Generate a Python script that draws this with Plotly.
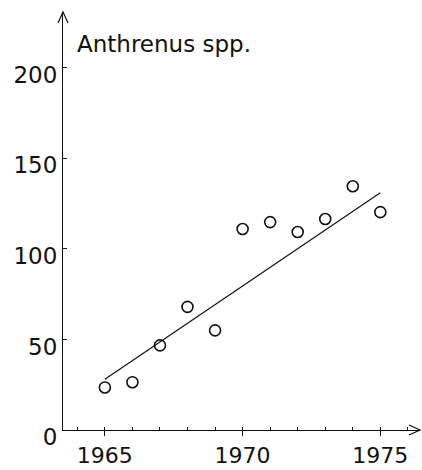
import plotly.graph_objects as go

years = [1965, 1966, 1967, 1968, 1969, 1970, 1971, 1972, 1973, 1974, 1975]
counts = [23.5, 26.4, 46.7, 68, 55, 111, 114.8, 109.3, 116.5, 134.6, 120.3]
trend_years = [1965, 1975]
trend_values = [28, 131]
y_ticks = [0, 50, 100, 150, 200]
x_ticks = [1965, 1970, 1975]
title_text = "Anthrenus spp."

W, H = 422, 470
ML, MR, MT, MB = 63, 2, 12, 38
PW, PH = W - ML - MR, H - MT - MB

FONT = "DejaVu Sans, Liberation Sans, Arial, sans-serif"
INK = "#111111"

fig = go.Figure()
fig.add_trace(go.Scatter(x=trend_years, y=trend_values, mode="lines",
                         line=dict(color=INK, width=1.2), showlegend=False, hoverinfo="skip"))
fig.add_trace(go.Scatter(x=years, y=counts, mode="markers",
                         marker=dict(symbol="circle-open", size=11, color=INK,
                                     line=dict(width=1.6, color=INK)),
                         showlegend=False))

# convert screen pixel positions to paper coords
def px(xp):
    return (xp - ML) / PW

def py(yp):
    return 1 - (yp - MT) / PH

shapes = [
    dict(type="path", xref="paper", yref="paper",
         path=f"M {px(58)} {py(23)} L {px(63)} {py(12)} L {px(68)} {py(23)}",
         line=dict(color=INK, width=1.2)),
    dict(type="path", xref="paper", yref="paper",
         path=f"M {px(409)} {py(427)} L {px(420)} {py(432)} L {px(409)} {py(437)}",
         line=dict(color=INK, width=1.2)),
]

fig.update_layout(
    width=W, height=H,
    margin=dict(l=ML, r=MR, t=MT, b=MB, pad=0),
    paper_bgcolor="white", plot_bgcolor="white",
    font=dict(family=FONT, size=23, color=INK),
    shapes=shapes,
    annotations=[dict(text=title_text, xref="paper", yref="paper",
                      x=px(75), y=py(44), xanchor="left", yanchor="middle",
                      showarrow=False, font=dict(size=23, family=FONT, color=INK))],
    xaxis=dict(range=[1963.48, 1976.44], tickvals=x_ticks, ticks="outside", ticklen=5,
               tickwidth=1, tickcolor=INK, showline=True, linecolor=INK, linewidth=1.2,
               showgrid=False, zeroline=False,
               minor=dict(dtick=1, tick0=1965, ticks="inside", ticklen=3, tickwidth=1,
                          tickcolor=INK, showgrid=False),
               tickfont=dict(size=22, family=FONT, color=INK)),
    yaxis=dict(range=[0, 230.8], tickvals=y_ticks, ticks="inside", ticklen=4,
               tickwidth=1, tickcolor=INK, showline=True, linecolor=INK, linewidth=1.2,
               showgrid=False, zeroline=False, ticklabelshift=7,
               tickfont=dict(size=23, family=FONT, color=INK)),
)

fig.write_html(
    "out.html",
    config={"displayModeBar": False},
    post_script="document.body.style.margin='0';document.documentElement.style.overflow='hidden';",
)
